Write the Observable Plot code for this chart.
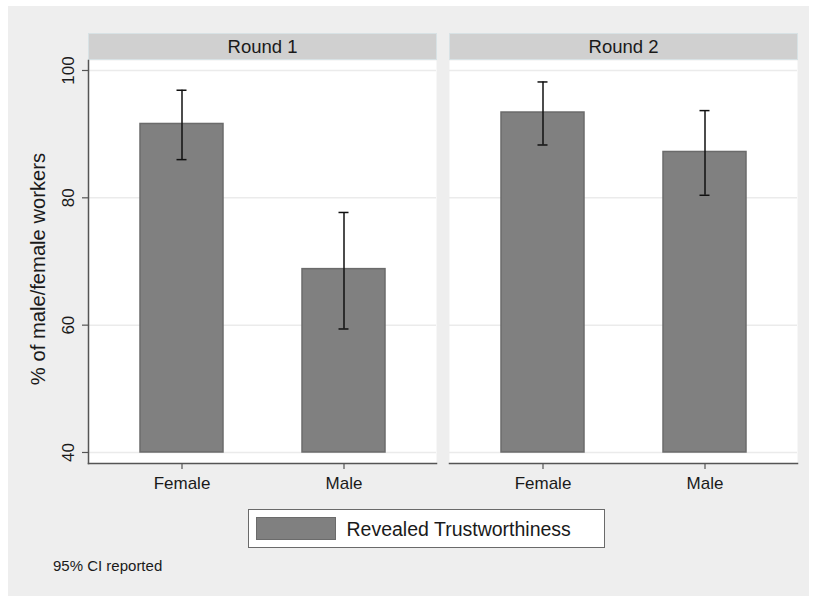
<!DOCTYPE html>
<html>
<head>
<meta charset="utf-8">
<script src="https://cdn.jsdelivr.net/npm/d3@7"></script>
<script src="https://cdn.jsdelivr.net/npm/@observablehq/plot@0.6"></script>
<style>
  html, body { margin: 0; padding: 0; background: #ffffff; }
  body { width: 814px; height: 596px; position: relative; overflow: hidden; font-family: "Liberation Sans", Arial, Helvetica, sans-serif; color: #1a1a1a; }
  #bg { position: absolute; left: 8px; top: 6px; width: 801px; height: 590px; background: #eeeeee; }
  #chart { position: absolute; left: 0; top: 0; }
  #legend { position: absolute; left: 247.5px; top: 508.5px; width: 357px; height: 39.5px; box-sizing: border-box; border: 1.5px solid #6a6a6a; background: #ffffff; }
  #legend .swatch { position: absolute; left: 7px; top: 7px; width: 80px; height: 23px; box-sizing: border-box; background: #808080; border: 1.5px solid #6b6b6b; }
  #legend .label { position: absolute; left: 98px; top: 10.5px; font-size: 19.5px; line-height: 19.5px; white-space: nowrap; }
  #caption { position: absolute; left: 53px; top: 558px; font-size: 15px; line-height: 15px; white-space: nowrap; }
</style>
</head>
<body>
<div id="bg"></div>
<div id="chart"></div>
<div id="legend"><div class="swatch"></div><div class="label">Revealed Trustworthiness</div></div>
<div id="caption">95% CI reported</div>
<script>
// ---- data ----
const rounds = ["Round 1", "Round 2"];
const genders = ["Female", "Male"];
const round = ["Round 1", "Round 1", "Round 2", "Round 2"];
const gender = ["Female", "Male", "Female", "Male"];
const mean = [91.6, 68.8, 93.4, 87.2];
const ciLow = [86.0, 59.4, 88.3, 80.4];
const ciHigh = [96.9, 77.7, 98.2, 93.7];
const yTicks = [40, 60, 80, 100];
const yTitle = ["% of male/female workers"];

const data = round.map((r, i) => ({round: r, gender: gender[i], mean: mean[i], lo: ciLow[i], hi: ciHigh[i]}));

const plot = Plot.plot({
  width: 814,
  height: 500,
  marginTop: 60,
  marginBottom: 37,
  marginLeft: 88,
  marginRight: 17,
  style: {background: "transparent", fontFamily: "'Liberation Sans', Arial, Helvetica, sans-serif", color: "#1a1a1a", overflow: "visible"},
  fx: {domain: rounds, paddingInner: 0.037, paddingOuter: 0, label: null, axis: null},
  x: {domain: genders, paddingInner: 0.488, paddingOuter: 0.315, label: null, axis: null},
  y: {domain: [38.27, 101.57], label: null, axis: null},
  marks: [
    // facet header strip
    Plot.frame({fill: "#d0d0d0", stroke: "#d8e2e5", strokeWidth: 1, insetTop: -27, insetBottom: 404}),
    // white panel
    Plot.frame({fill: "#ffffff", stroke: null}),
    Plot.gridY(yTicks, {stroke: "#ebebeb", strokeOpacity: 1, strokeWidth: 1.5}),
    Plot.barY(data, {fx: "round", x: "gender", y1: 40, y2: "mean", fill: "#808080", stroke: "#6b6b6b", strokeWidth: 1.5}),
    Plot.ruleX(data, {fx: "round", x: "gender", y1: "lo", y2: "hi", stroke: "#111111", strokeWidth: 1.5}),
    Plot.tickY(data, {fx: "round", x: "gender", y: "lo", insetLeft: 36.5, insetRight: 36.5, stroke: "#111111", strokeWidth: 1.5}),
    Plot.tickY(data, {fx: "round", x: "gender", y: "hi", insetLeft: 36.5, insetRight: 36.5, stroke: "#111111", strokeWidth: 1.5}),
    Plot.axisFx({anchor: "top", tickSize: 0, tickPadding: 8, fontSize: 18.5, label: null}),
    Plot.axisX({anchor: "bottom", tickSize: 6, tickPadding: 7, fontSize: 17, label: null, stroke: "#555555", strokeWidth: 1.2}),
    Plot.frame({anchor: "bottom", stroke: "#555555", strokeWidth: 1.5}),
    Plot.frame({anchor: "left", stroke: "#555555", strokeWidth: 1.5, facetAnchor: "left"}),
    Plot.axisY(yTicks, {anchor: "left", tickSize: 6, tickPadding: 9, tickRotate: -90, fontSize: 17, label: null, stroke: "#555555", strokeWidth: 1.2}),
    Plot.text(yTitle, {frameAnchor: "left", textAnchor: "middle", lineAnchor: "middle", rotate: -90, dx: -50, dy: 7, fontSize: 20.2, fill: "#1a1a1a", facetAnchor: "left"})
  ]
});
document.getElementById("chart").appendChild(plot);
</script>
</body>
</html>
